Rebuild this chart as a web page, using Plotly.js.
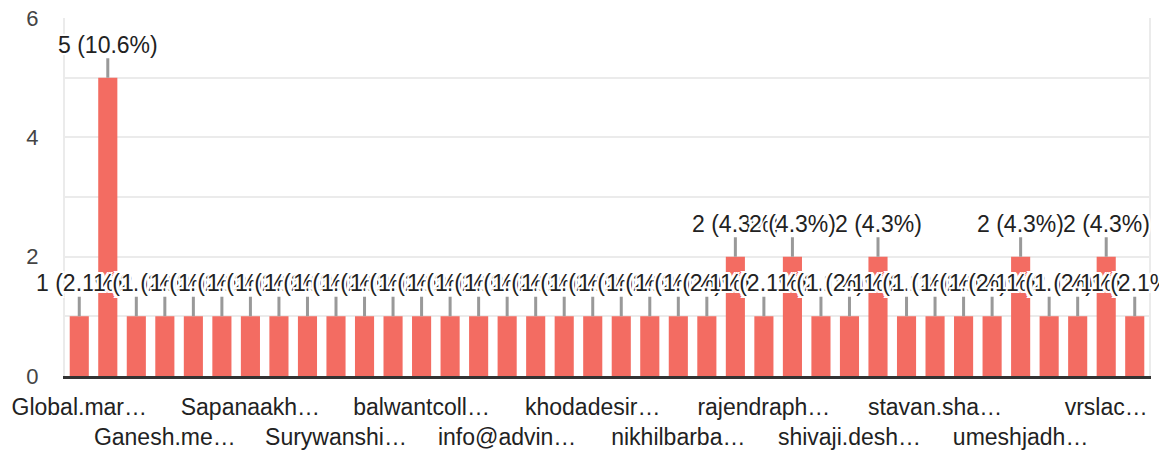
<!DOCTYPE html>
<html>
<head>
<meta charset="utf-8">
<script src="https://cdn.plot.ly/plotly-3.0.1.min.js"></script>
<style>html,body{margin:0;padding:0;background:#fff;}#chart{width:1159px;height:453px;}</style>
</head>
<body>
<div id="chart"></div>
<script>
// Response counts per answer (38 answers, left to right)
const counts = [1,5,1,1,1,1,1,1,1,1,1,1,1,1,1,1,1,1,1,1,1,1,1,2,1,2,1,1,2,1,1,1,1,2,1,1,2,1];
// Visible (truncated) tick labels, shown on every third answer
const tickLabels = ['Global.mar…','Ganesh.me…','Sapanaakh…','Surywanshi…','balwantcoll…','info@advin…','khodadesir…','nikhilbarba…','rajendraph…','shivaji.desh…','stavan.sha…','umeshjadh…','vrslac…'];
const tickStep = 3;

const FONT = '"Liberation Sans", Arial, sans-serif';
const total = counts.reduce((a, b) => a + b, 0);
const xs = counts.map((_, i) => i);
const tickvals = tickLabels.map((_, k) => k * tickStep);
const ticktext = tickLabels.map((t, k) => (k % 2 === 1 ? '<br>' : '') + t);

const halo = ['-2px -2px 0 #fff','2px -2px 0 #fff','-2px 2px 0 #fff','2px 2px 0 #fff',
              '0 2px 0 #fff','0 -2px 0 #fff','2px 0 0 #fff','-2px 0 0 #fff'].join(', ');

const annotations = counts.map((c, i) => ({
  x: i, y: c, xref: 'x', yref: 'y',
  text: c + ' (' + (c / total * 100).toFixed(1) + '%)',
  showarrow: true, arrowhead: 0, arrowwidth: 3, arrowcolor: '#999999',
  ax: 0, ay: -33, standoff: 0, startstandoff: 0, borderpad: 0,
  font: {family: FONT, size: 23, color: '#222222', shadow: halo}
}));

const trace = {
  type: 'bar', x: xs, y: counts,
  marker: {color: '#f36c62'},
  hoverinfo: 'skip'
};

const layout = {
  width: 1159, height: 453,
  margin: {l: 65, r: 10, t: 18, b: 77},
  paper_bgcolor: '#ffffff', plot_bgcolor: '#ffffff',
  showlegend: false,
  bargap: 0.33,
  xaxis: {
    range: [-0.5, counts.length - 0.5],
    tickmode: 'array', tickvals: tickvals, ticktext: ticktext,
    tickangle: 0, showgrid: false, zeroline: false,
    showline: true, linecolor: '#333333', linewidth: 3,
    ticks: '', ticklabelstandoff: 8,
    tickfont: {family: FONT, size: 23, color: '#222222'}
  },
  yaxis: {
    range: [0, 6], tickmode: 'array',
    tickvals: [0,1,2,3,4,5,6], ticktext: ['0','','2','','4','','6'],
    showgrid: true, gridcolor: '#ebebeb', gridwidth: 2,
    zeroline: false, showline: true, linecolor: '#ebebeb', linewidth: 2, mirror: true,
    ticks: '', ticklabelstandoff: 20,
    tickfont: {family: FONT, size: 22, color: '#444444'}
  },
  annotations: annotations
};

Plotly.newPlot('chart', [trace], layout, {displayModeBar: false, staticPlot: true});
</script>
</body>
</html>
